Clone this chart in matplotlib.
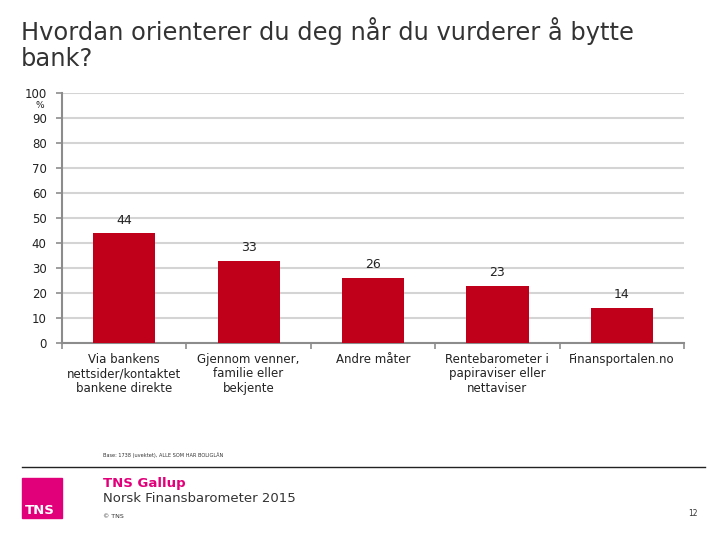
import matplotlib
matplotlib.use("Agg")
import matplotlib.pyplot as plt
from matplotlib.patches import Rectangle
import numpy as np

categories = [
    "Via bankens\nnettsider/kontaktet\nbankene direkte",
    "Gjennom venner,\nfamilie eller\nbekjente",
    "Andre måter",
    "Rentebarometer i\npapiraviser eller\nnettaviser",
    "Finansportalen.no",
]
values = [44, 33, 26, 23, 14]
yticks = [0, 10, 20, 30, 40, 50, 60, 70, 80, 90, 100]

BAR = "#C0001A"
GRID = "#D4D4D4"
AXIS = "#8C8C8C"
MAGENTA = "#E2007A"

fig = plt.figure(figsize=(7.2, 5.4), dpi=100)

# title
fig.text(21 / 720, 1 - 17 / 540,
         "Hvordan orienterer du deg når du vurderer å bytte\nbank?",
         fontsize=17.4, color="#333333", va="top", ha="left",
         linespacing=1.1)

# plot area: x 62..684, y 93..343 pixels
ax = fig.add_axes([62 / 720, 1 - 343 / 540, (684 - 62) / 720, 250 / 540])
x = np.arange(len(values))
ax.bar(x, values, width=0.5, color=BAR, zorder=3)
for xi, v in zip(x, values):
    ax.text(xi, v + 5.2, str(v), ha="center", va="center",
            fontsize=9, color="#222222")

ax.set_xlim(-0.5, len(values) - 0.5)
ax.set_ylim(0, 100)
ax.set_yticks(yticks)
ax.set_yticklabels([str(t) for t in yticks], fontsize=8.5, color="#222222")
ax.yaxis.grid(True, color=GRID, linewidth=1.5, zorder=0)
ax.set_axisbelow(True)

ax.set_xticks(x)
ax.set_xticklabels(categories, fontsize=8.5, color="#222222",
                   linespacing=1.15, va="top")
ax.tick_params(axis="x", length=0, pad=7)
# category boundary ticks
ax.set_xticks(np.arange(-0.5, len(values)), minor=True)
ax.tick_params(axis="x", which="minor", length=4, color=AXIS, width=1.2)
ax.tick_params(axis="y", length=4, color=AXIS, width=1.2, pad=7)

for side in ["top", "right"]:
    ax.spines[side].set_visible(False)
ax.spines["left"].set_color(AXIS)
ax.spines["left"].set_linewidth(1.5)
ax.spines["bottom"].set_color(AXIS)
ax.spines["bottom"].set_linewidth(1.5)

fig.text(40 / 720, 1 - 105 / 540, "%", fontsize=6.5, color="#222222",
         ha="center", va="center")

# footer
fig.text(103 / 720, 1 - 455 / 540,
         "Base: 1738 (uvektet), ALLE SOM HAR BOLIGLÅN",
         fontsize=3.6, color="#333333", ha="left", va="center")
fig.add_artist(plt.Line2D([22 / 720, 705 / 720], [1 - 467 / 540] * 2,
                          color="#222222", linewidth=1.0))
fig.add_artist(Rectangle((22 / 720, 1 - 518 / 540), 40 / 720, 40 / 540,
                         transform=fig.transFigure, color=MAGENTA))
fig.text(25 / 720, 1 - 510 / 540, "TNS", fontsize=9.5, fontweight="bold",
         color="white", ha="left", va="center")
fig.text(103 / 720, 1 - 484 / 540, "TNS Gallup", fontsize=9.5,
         fontweight="bold", color=MAGENTA, ha="left", va="center")
fig.text(103 / 720, 1 - 498 / 540, "Norsk Finansbarometer 2015",
         fontsize=9.5, color="#333333", ha="left", va="center")
fig.text(103 / 720, 1 - 516 / 540, "© TNS", fontsize=4.5,
         color="#333333", ha="left", va="center")
fig.text(693 / 720, 1 - 514 / 540, "12", fontsize=5.5, color="#333333",
         ha="center", va="center")

fig.savefig("out.png", dpi=100)
